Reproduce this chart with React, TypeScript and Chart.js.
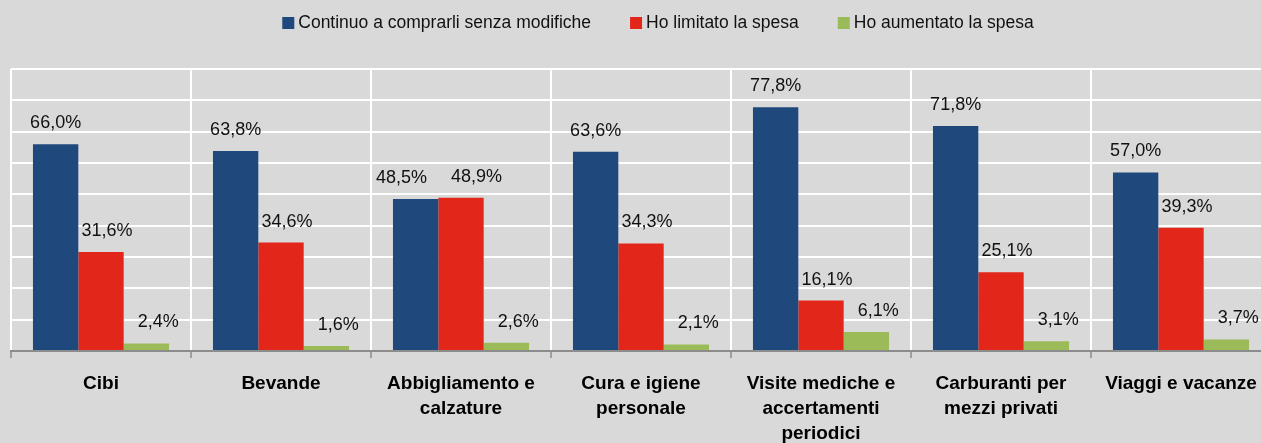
import React, { useEffect, useRef } from "react";
import { Chart, registerables } from "chart.js";
Chart.register(...registerables);

const categories: (string | string[])[] = [
  "Cibi",
  "Bevande",
  ["Abbigliamento e", "calzature"],
  ["Cura e igiene", "personale"],
  ["Visite mediche e", "accertamenti", "periodici"],
  ["Carburanti per", "mezzi privati"],
  "Viaggi e vacanze",
];
const seriesNames = [
  "Continuo a comprarli senza modifiche",
  "Ho limitato la spesa",
  "Ho aumentato la spesa",
];
const continuo = [66.0, 63.8, 48.5, 63.6, 77.8, 71.8, 57.0];
const limitato = [31.6, 34.6, 48.9, 34.3, 16.1, 25.1, 39.3];
const aumentato = [2.4, 1.6, 2.6, 2.1, 6.1, 3.1, 3.7];

const colors = ["#1F497D", "#E3261A", "#9BBB59"];
const labelShift = [0, 6, 12];
const FONT = "'Liberation Sans', Arial, sans-serif";

const fmt = (v: number) => v.toFixed(1).replace(".", ",") + "%";

const valueLabels = {
  id: "valueLabels",
  afterDatasetsDraw(chart: any) {
    const ctx = chart.ctx;
    ctx.save();
    ctx.font = `18px ${FONT}`;
    ctx.fillStyle = "#111";
    ctx.textAlign = "center";
    ctx.textBaseline = "middle";
    const n = chart.data.labels.length;
    for (let i = 0; i < n; i++) {
      const items = chart.data.datasets.map((ds: any, di: number) => {
        const bar = chart.getDatasetMeta(di).data[i];
        const text = fmt(ds.data[i]);
        return { text, x: bar.x + labelShift[di], y: bar.y - 21, w: ctx.measureText(text).width };
      });
      // avoid overlaps between neighbouring labels at similar heights
      for (let k = 0; k < items.length - 1; k++) {
        const a = items[k];
        const b = items[k + 1];
        if (Math.abs(a.y - b.y) < 22) {
          const need = a.x + a.w / 2 + 24 - (b.x - b.w / 2);
          if (need > 0) {
            a.x -= need * 0.6;
            b.x += need * 0.4;
          }
        }
      }
      items.forEach((it: any) => ctx.fillText(it.text, it.x, it.y));
    }
    ctx.restore();
  },
};

const customLegend = {
  id: "customLegend",
  afterDraw(chart: any) {
    const ctx = chart.ctx;
    ctx.save();
    ctx.font = `17.5px ${FONT}`;
    ctx.textBaseline = "middle";
    ctx.textAlign = "left";
    const box = 12;
    const gap = 4;
    const between = 39;
    const widths = seriesNames.map((s) => ctx.measureText(s).width);
    const total =
      widths.reduce((a, w) => a + box + gap + w, 0) + between * (seriesNames.length - 1);
    let x = 658 - total / 2;
    const y = 23;
    seriesNames.forEach((s, i) => {
      ctx.fillStyle = colors[i];
      ctx.fillRect(x, y - box / 2, box, box);
      ctx.fillStyle = "#111";
      ctx.fillText(s, x + box + gap, y);
      x += box + gap + widths[i] + between;
    });
    ctx.restore();
  },
};

export default function App() {
  const ref = useRef<HTMLCanvasElement | null>(null);
  useEffect(() => {
    document.body.style.overflow = "hidden";
    document.documentElement.style.overflow = "hidden";
    const chart = new Chart(ref.current!, {
      type: "bar",
      data: {
        labels: categories,
        datasets: [continuo, limitato, aumentato].map((d, i) => ({
          label: seriesNames[i],
          data: d,
          backgroundColor: colors[i],
          categoryPercentage: 0.756,
          barPercentage: 1,
        })),
      },
      options: {
        responsive: false,
        animation: false,
        layout: { padding: { left: 11, right: 45, top: 69, bottom: 0 } },
        plugins: {
          legend: { display: false },
          tooltip: { enabled: false },
        },
        scales: {
          x: {
            afterFit(scale: any) {
              scale.height = 92;
            },
            grid: {
              color: "#ffffff",
              lineWidth: 2,
              tickColor: "#8c8c8c",
              tickLength: 7,
              tickWidth: 1.5,
            },
            border: { color: "#8c8c8c", width: 2 },
            ticks: {
              color: "#000",
              font: { family: FONT, size: 19, weight: "bold", lineHeight: 1.33 },
              padding: 13,
              maxRotation: 0,
              autoSkip: false,
            },
          },
          y: {
            min: 0,
            max: 90,
            ticks: { display: false, stepSize: 10 },
            grid: { color: "#ffffff", lineWidth: 2, drawTicks: false },
            border: { display: false },
          },
        },
      },
      plugins: [valueLabels, customLegend],
    } as any);
    return () => chart.destroy();
  }, []);
  return (
    <div
      style={{
        position: "fixed",
        left: 0,
        top: 0,
        width: 1316,
        height: 443,
        background: "#D9D9D9",
      }}
    >
      <canvas ref={ref} width={1316} height={443} />
    </div>
  );
}
